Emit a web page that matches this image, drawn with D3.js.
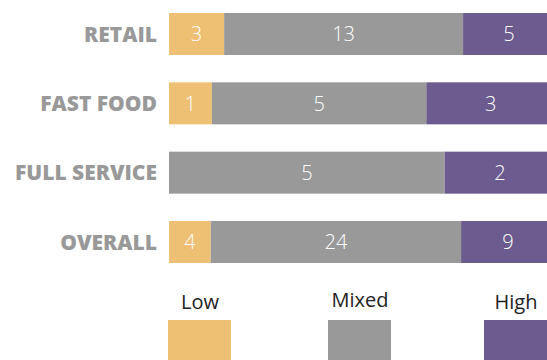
<!DOCTYPE html>
<html>
<head>
<meta charset="utf-8">
<script src="https://cdn.jsdelivr.net/npm/d3@7"></script>
<style>
  html, body { margin: 0; padding: 0; background: #fff; overflow: hidden; }
  svg { display: block; font-family: "Open Sans", sans-serif; }
</style>
</head>
<body>
<div id="chart"></div>
<script>
// data
const categories = ["RETAIL", "FAST FOOD", "FULL SERVICE", "OVERALL"];
const levels = ["Low", "Mixed", "High"];
const low = [3, 1, 0, 4];
const mixed = [13, 5, 5, 24];
const high = [5, 3, 2, 9];
const colors = ["#eec073", "#999999", "#6b5b8e"];

const W = 547, H = 360;
const svg = d3.select("#chart").append("svg")
  .attr("width", W).attr("height", H);

const rows = categories.map((c, i) => ({ cat: c, Low: low[i], Mixed: mixed[i], High: high[i],
  total: low[i] + mixed[i] + high[i] }));

const stack = d3.stack().keys(levels)
  .value((d, k) => d[k] / d.total);
const series = stack(rows);

const x = d3.scaleLinear().domain([0, 1]).range([169, 555]);
const y = d3.scaleBand().domain(categories).range([13, 263])
  .paddingInner(0.394).paddingOuter(0);
const color = d3.scaleOrdinal().domain(levels).range(colors);

const g = svg.append("g");
series.forEach(s => {
  const grp = g.append("g").attr("fill", color(s.key));
  grp.selectAll("rect").data(s).enter().append("rect")
    .attr("x", d => x(d[0]))
    .attr("y", d => y(d.data.cat))
    .attr("width", d => x(d[1]) - x(d[0]))
    .attr("height", y.bandwidth());
  // value labels (skip empty segments)
  g.append("g").selectAll("text").data(s.filter(d => d.data[s.key] > 0)).enter()
    .append("text")
    .attr("x", d => (x(d[0]) + x(d[1])) / 2)
    .attr("y", d => y(d.data.cat) + y.bandwidth() / 2)
    .attr("dy", "0.36em")
    .attr("text-anchor", "middle")
    .attr("fill", "#fff")
    .style("font-size", "20px")
    .style("font-weight", "300")
    .text(d => d.data[s.key]);
});

// category labels
svg.append("g").selectAll("text").data(categories).enter().append("text")
  .attr("x", 157)
  .attr("y", d => y(d) + y.bandwidth() / 2)
  .attr("dy", "0.36em")
  .attr("text-anchor", "end")
  .attr("fill", "#999")
  .style("font-size", "21px")
  .style("font-weight", "800")
  .text(d => d);

// legend
const legX = d3.scalePoint().domain(levels).range([200, 516]);
const leg = svg.append("g").selectAll("g").data(levels).enter().append("g")
  .attr("transform", d => `translate(${legX(d) + (d === "Mixed" ? 2 : 0)},0)`);
leg.append("text")
  .attr("y", d => d === "Mixed" ? 307 : 309)
  .attr("text-anchor", "middle")
  .attr("fill", "#222")
  .style("font-size", "20px")
  .text(d => d);
leg.append("rect")
  .attr("x", -32).attr("y", 320)
  .attr("width", 63).attr("height", 45)
  .attr("fill", d => color(d));
</script>
</body>
</html>
